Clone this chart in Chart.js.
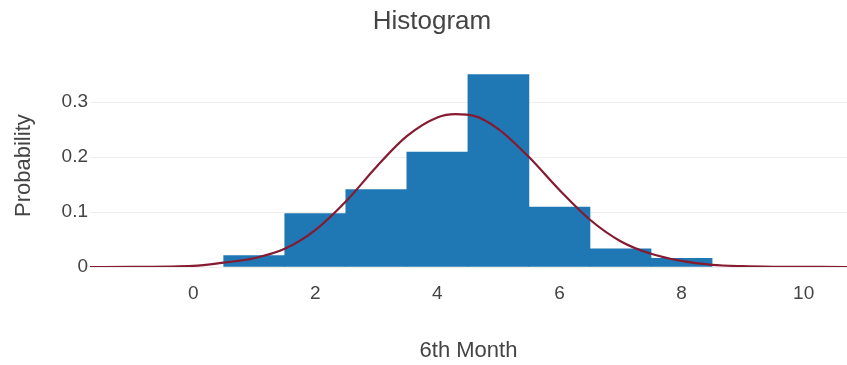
<!DOCTYPE html>
<html>
<head>
<meta charset="utf-8">
<script src="https://cdn.jsdelivr.net/npm/chart.js@4/dist/chart.umd.min.js"></script>
<style>
  html, body { margin: 0; padding: 0; background: #fff; }
  #wrap { width: 847px; height: 365px; }
</style>
</head>
<body>
<div id="wrap"><canvas id="c" width="847" height="365"></canvas></div>
<script>
// Histogram bins (centre of each unit-wide bin) and their probabilities
const binCenters = [1, 2, 3, 4, 5, 6, 7, 8];
const binProb = [0.021, 0.097, 0.141, 0.209, 0.350, 0.109, 0.033, 0.016];

// Fitted density curve, sampled along the x axis
const curveX = [-1.69, -1, 0, 0.5, 1, 1.5, 2, 2.5, 3, 3.5, 4, 4.3, 4.6, 5, 5.5, 6, 6.5, 7, 7.5, 8, 8.5, 9, 9.5, 10.71];
const curveY = [0, 0.0002, 0.002, 0.008, 0.016, 0.033, 0.067, 0.119, 0.182, 0.238, 0.272, 0.278, 0.275, 0.251, 0.200, 0.140, 0.086, 0.047, 0.024, 0.011, 0.004, 0.0015, 0.0005, 0];

// Axis ticks
const xTicks = [0, 2, 4, 6, 8, 10];
const yTicks = [0, 0.1, 0.2, 0.3];

const textColor = '#444';
const fam = '"Liberation Sans", Arial, sans-serif';

// Nudge the title block so the heading sits slightly right of the canvas centre
const titleShift = {
  id: 'titleShift',
  afterLayout(chart) {
    if (chart.titleBlock) chart.titleBlock.left += 17;
  }
};

new Chart(document.getElementById('c'), {
  type: 'bar',
  plugins: [titleShift],
  data: {
    datasets: [
      {
        type: 'line',
        order: 0,
        data: curveX.map((x, i) => ({ x, y: curveY[i] })),
        borderColor: '#861a30',
        borderWidth: 2.2,
        pointRadius: 0,
        cubicInterpolationMode: 'monotone',
        fill: false
      },
      {
        type: 'bar',
        order: 1,
        data: binCenters.map((x, i) => ({ x, y: binProb[i] })),
        backgroundColor: '#1f77b4',
        borderWidth: 0,
        barPercentage: 1,
        categoryPercentage: 1
      }
    ]
  },
  options: {
    responsive: false,
    animation: false,
    events: [],
    layout: { padding: 0 },
    plugins: {
      legend: { display: false },
      tooltip: { enabled: false },
      title: {
        display: true,
        text: 'Histogram',
        color: textColor,
        font: { family: fam, size: 26, weight: 'normal', lineHeight: 1.2 },
        padding: { top: 6, bottom: 27 }
      }
    },
    scales: {
      x: {
        type: 'linear',
        min: -1.69,
        max: 10.71,
        offset: false,
        afterBuildTicks: s => { s.ticks = xTicks.map(v => ({ value: v })); },
        afterFit: s => { s.height = 98; },
        grid: { display: false, drawTicks: false },
        border: { display: false },
        ticks: {
          color: textColor,
          padding: 15,
          maxRotation: 0,
          font: { family: fam, size: 19 },
          callback: v => String(v)
        },
        title: {
          display: true,
          text: '6th Month',
          color: textColor,
          font: { family: fam, size: 22 },
          padding: { top: 0, bottom: 1 }
        }
      },
      y: {
        min: 0,
        max: 0.369,
        afterBuildTicks: s => { s.ticks = yTicks.map(v => ({ value: v })); },
        afterFit: s => { s.width = 90; },
        grid: { color: '#eeeeee', lineWidth: 1, drawTicks: false },
        border: { display: false },
        ticks: {
          color: textColor,
          padding: 2,
          font: { family: fam, size: 19 },
          callback: v => (v === 0 ? '0' : String(Math.round(v * 10) / 10))
        },
        title: {
          display: true,
          text: 'Probability',
          color: textColor,
          font: { family: fam, size: 22 },
          padding: { top: 11, bottom: 0 }
        }
      }
    }
  }
});
</script>
</body>
</html>
